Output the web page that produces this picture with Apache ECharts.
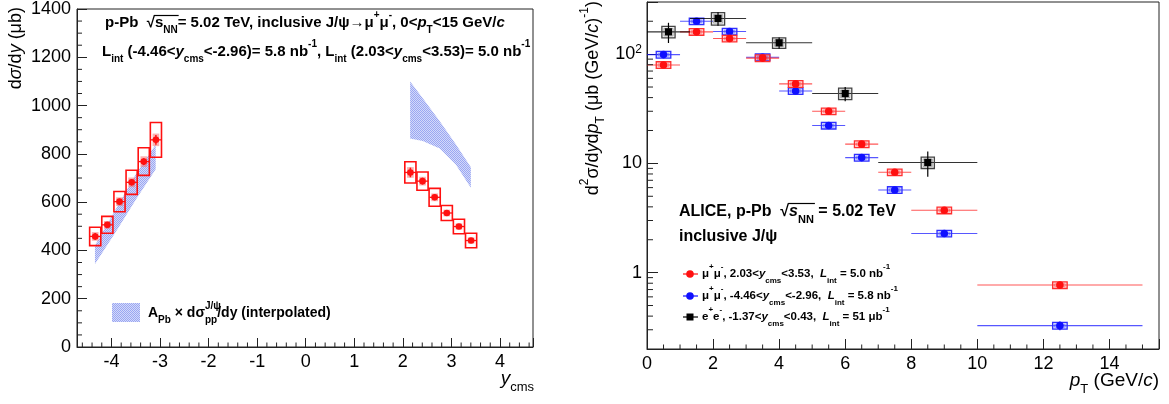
<!DOCTYPE html>
<html><head><meta charset="utf-8">
<script src="https://cdn.jsdelivr.net/npm/echarts@6/dist/echarts.min.js"></script>
<style>html,body{margin:0;padding:0;background:#fff}#c{width:1169px;height:404px}</style>
</head><body><div id="c"></div>
<script>
// ===== Left panel: dsigma/dy vs y_cms =====
const yBwdEdges = [-4.46, -4.21, -3.96, -3.71, -3.46, -3.21, -2.96];
const yBwdXsec = [458, 506, 602, 682, 768, 858];
const yBwdStat = [14, 12, 12, 12, 14, 20];
const yBwdSystUncorr = [18, 16, 18, 20, 22, 26];
const yBwdSystTot = [38, 35, 42, 50, 57, 72];
const yFwdEdges = [2.03, 2.28, 2.53, 2.78, 3.03, 3.28, 3.53];
const yFwdXsec = [723, 687, 620, 555, 499, 441];
const yFwdStat = [20, 14, 12, 10, 10, 10];
const yFwdSystUncorr = [22, 18, 16, 14, 13, 13];
const yFwdSystTot = [44, 38, 37, 31, 30, 30];
// interpolated pp reference band (A_Pb x dsigma_pp/dy)
const refBwdY = [-4.34, -3.9, -3.5, -3.09];
const refBwdLow = [344, 480, 610, 736];
const refBwdHigh = [420, 575, 715, 839];
const refFwdY = [2.15, 2.41, 2.76, 3.09, 3.40];
const refFwdLow = [864, 853, 822, 756, 660];
const refFwdHigh = [1100, 1030, 935, 840, 745];
const leftYTicks = [0, 200, 400, 600, 800, 1000, 1200, 1400];

// ===== Right panel: d2sigma/dydpT vs pT =====
const ptMuEdges = [0, 1, 2, 3, 4, 5, 6, 7, 8, 10, 15];
const ptFwdXsec = [79.6, 160, 139, 92, 53.4, 30.0, 15.0, 8.29, 3.72, 0.77];
const ptFwdStatRel = [0.03, 0.02, 0.02, 0.02, 0.03, 0.03, 0.04, 0.05, 0.05, 0.08];
const ptFwdSystRel = [0.07, 0.07, 0.07, 0.07, 0.07, 0.07, 0.07, 0.07, 0.07, 0.07];
const ptBwdXsec = [99, 200, 161, 93.7, 46, 22.2, 11.3, 5.71, 2.28, 0.327];
const ptBwdStatRel = [0.03, 0.02, 0.02, 0.02, 0.03, 0.03, 0.04, 0.05, 0.06, 0.09];
const ptBwdSystRel = [0.07, 0.07, 0.07, 0.07, 0.07, 0.07, 0.07, 0.07, 0.07, 0.07];
const ptMidEdges = [0, 1.3, 3, 5, 7, 10];
const ptMidCenters = [0.65, 2.15, 4.0, 6.0, 8.5];
const ptMidXsec = [160, 212, 127, 43.6, 10.2];
const ptMidStatRel = [0.21, 0.14, 0.12, 0.15, 0.26];
const ptMidSystRel = [0.12, 0.13, 0.11, 0.12, 0.12];

const FONT = '"Liberation Sans", Arial, Helvetica, sans-serif';

// ---------- row builders ----------
function yRows(edges, vals, stat, sU, sT) {
  return vals.map((v, i) => [(edges[i] + edges[i + 1]) / 2, v, edges[i], edges[i + 1],
    v - stat[i], v + stat[i], v - sU[i], v + sU[i], v - sT[i], v + sT[i]]);
}
function ptRows(edges, centers, vals, statRel, systRel) {
  return vals.map((v, i) => [centers ? centers[i] : (edges[i] + edges[i + 1]) / 2, v, edges[i], edges[i + 1],
    v * (1 - statRel[i]), v * (1 + statRel[i]), v * (1 - systRel[i]), v * (1 + systRel[i])]);
}

// ---------- pattern for the band ----------
const pc = document.createElement('canvas'); pc.width = 2; pc.height = 2;
const g = pc.getContext('2d');
g.fillStyle = '#d4d9fa'; g.fillRect(0, 0, 2, 2);
g.fillStyle = '#9aa7f2'; g.fillRect(0, 0, 1, 1); g.fillRect(1, 1, 1, 1);
const bandFill = { image: pc, repeat: 'repeat' };

function bandSeries(xs, lo, hi) {
  return {
    type: 'custom', xAxisIndex: 0, yAxisIndex: 0, z: 2,
    data: xs.map((x, i) => [x, lo[i], hi[i]]),
    renderItem: (params, api) => {
      if (params.dataIndex !== 0) return;
      const pts = [];
      for (let i = 0; i < xs.length; i++) pts.push(api.coord([xs[i], hi[i]]));
      for (let i = xs.length - 1; i >= 0; i--) pts.push(api.coord([xs[i], lo[i]]));
      return { type: 'polygon', shape: { points: pts }, style: { fill: bandFill } };
    }
  };
}

function leftPointSeries(rows) {
  return {
    type: 'custom', xAxisIndex: 0, yAxisIndex: 0, z: 5, data: rows,
    renderItem: (params, api) => {
      const x = api.value(0), y = api.value(1);
      const p = api.coord([x, y]);
      const xl = api.coord([api.value(2), y])[0] + 0.5, xr = api.coord([api.value(3), y])[0] - 0.5;
      const s1 = api.coord([x, api.value(4)])[1], s2 = api.coord([x, api.value(5)])[1];
      const u1 = api.coord([x, api.value(6)])[1], u2 = api.coord([x, api.value(7)])[1];
      const t1 = api.coord([x, api.value(8)])[1], t2 = api.coord([x, api.value(9)])[1];
      const ih = (xr - xl) * 0.3;
      return { type: 'group', children: [
        { type: 'rect', shape: { x: p[0] - ih, y: u2, width: 2 * ih, height: u1 - u2 }, style: { fill: 'rgba(250,110,110,0.55)' } },
        { type: 'rect', shape: { x: xl, y: t2, width: xr - xl, height: t1 - t2 }, style: { fill: 'none', stroke: '#ff1010', lineWidth: 1.6 } },
        { type: 'line', shape: { x1: xl, y1: p[1], x2: xr, y2: p[1] }, style: { stroke: '#ff1010', lineWidth: 1.3 } },
        { type: 'line', shape: { x1: p[0], y1: s2, x2: p[0], y2: s1 }, style: { stroke: '#ff1010', lineWidth: 1.5 } },
        { type: 'circle', shape: { cx: p[0], cy: p[1], r: 3.3 }, style: { fill: '#ff1010' } }
      ] };
    }
  };
}

function ptSeries(rows, color, boxStroke, boxFill, boxHalf, square) {
  return {
    type: 'custom', xAxisIndex: 1, yAxisIndex: 1, z: 5, data: rows,
    renderItem: (params, api) => {
      const x = api.value(0), y = api.value(1);
      const p = api.coord([x, y]);
      const xl = api.coord([api.value(2), y])[0], xr = api.coord([api.value(3), y])[0];
      const s1 = api.coord([x, api.value(4)])[1], s2 = api.coord([x, api.value(5)])[1];
      const b1 = api.coord([x, api.value(6)])[1], b2 = api.coord([x, api.value(7)])[1];
      const bx1 = api.coord([x - boxHalf, y])[0], bx2 = api.coord([x + boxHalf, y])[0];
      const ch = [
        { type: 'line', shape: { x1: xl, y1: p[1], x2: xr, y2: p[1] }, style: { stroke: color, lineWidth: 1.1, opacity: square ? 0.8 : 0.7 } },
        { type: 'rect', shape: { x: bx1, y: b2, width: bx2 - bx1, height: b1 - b2 }, style: { fill: boxFill, stroke: boxStroke, lineWidth: 1.3 } },
        { type: 'rect', shape: { x: bx1 + 2, y: b2 + 2, width: bx2 - bx1 - 4, height: b1 - b2 - 4 }, style: { fill: 'none', stroke: boxStroke, lineWidth: 0.6, opacity: 0.6 } },
        { type: 'line', shape: { x1: p[0], y1: s2, x2: p[0], y2: s1 }, style: { stroke: color, lineWidth: 1.2 } }
      ];
      if (square) ch.push({ type: 'rect', shape: { x: p[0] - 3.6, y: p[1] - 3.6, width: 7.2, height: 7.2 }, style: { fill: color } });
      else ch.push({ type: 'circle', shape: { cx: p[0], cy: p[1], r: 3.8 }, style: { fill: color } });
      return { type: 'group', children: ch };
    }
  };
}

// ---------- minor tick helpers ----------
function xTickSeries(xi, yMinVal, vals, len) {
  return { type: 'custom', xAxisIndex: xi, yAxisIndex: xi, z: 10, silent: true,
    data: vals.map(v => [v, yMinVal]),
    renderItem: (params, api) => {
      const p = api.coord([api.value(0), api.value(1)]);
      return { type: 'line', shape: { x1: p[0], y1: p[1], x2: p[0], y2: p[1] - len }, style: { stroke: '#222', lineWidth: 1 } };
    } };
}
function yTickSeries(xi, xMinVal, vals, len) {
  return { type: 'custom', xAxisIndex: xi, yAxisIndex: xi, z: 10, silent: true,
    data: vals.map(v => [xMinVal, v]),
    renderItem: (params, api) => {
      const p = api.coord([api.value(0), api.value(1)]);
      return { type: 'line', shape: { x1: p[0], y1: p[1], x2: p[0] + len, y2: p[1] }, style: { stroke: '#222', lineWidth: 1 } };
    } };
}
const leftXMinor = []; for (let k = -23; k <= 23; k++) if (k % 5 !== 0) leftXMinor.push(k / 5);
const leftYMinor = []; for (let v = 50; v < 1400; v += 50) if (v % 200 !== 0) leftYMinor.push(v);
const rightXMinor = []; for (let v = 0.5; v < 15.5; v += 0.5) if (v % 2 !== 0) rightXMinor.push(v);
const rightYMinor = [];
[0.1, 1, 10, 100].forEach(d => { for (let m = 2; m <= 9; m++) { const v = m * d; if (v > 0.2 && v < 300) rightYMinor.push(+v.toPrecision(3)); } });

// ---------- rich text styles ----------
function rich(size, bold) {
  const w = bold ? 'bold' : 'normal';
  const s = Math.round(size * 0.68);
  return {
    t: { fontSize: size, fontWeight: w, fontFamily: FONT, lineHeight: size + 10, verticalAlign: 'middle', fill: '#000' },
    i: { fontSize: size, fontWeight: w, fontStyle: 'italic', fontFamily: FONT, lineHeight: size + 10, verticalAlign: 'middle', fill: '#000' },
    sub: { fontSize: s, fontWeight: w, fontFamily: FONT, lineHeight: s + 1, verticalAlign: 'bottom', fill: '#000' },
    sup: { fontSize: s, fontWeight: w, fontFamily: FONT, lineHeight: s + 1, verticalAlign: 'top', fill: '#000' },
    sup0: { fontSize: s, fontWeight: w, fontFamily: FONT, lineHeight: s + 1, verticalAlign: 'top', width: 0, fill: '#000' }
  };
}
function txt(x, y, text, size, bold, align, rot) {
  return { type: 'text', x: x, y: y, rotation: rot || 0, z: 20,
    style: { text: text, rich: rich(size, bold), align: align || 'left', verticalAlign: 'middle', fontSize: size, fontFamily: FONT } };
}
// text measuring for the square-root overlines
const mctx = document.createElement('canvas').getContext('2d');
function tw(str, size, bold, italic) {
  mctx.font = (italic ? 'italic ' : '') + (bold ? 'bold ' : '') + size + 'px "Liberation Sans"';
  return mctx.measureText(str).width;
}
function overline(x0, pre, size, italicS, y) {
  const xs = x0 + tw(pre, size, true);
  const xe = xs + tw('s', size, true, italicS) + tw('NN', Math.round(size * 0.68), true);
  return { type: 'line', shape: { x1: xs - 1, y1: y, x2: xe + 1, y2: y }, style: { stroke: '#000', lineWidth: 1.2 }, z: 21 };
}

const graphics = [
  txt(105, 23, '{t|p-Pb  √}{t|s}{sub|NN}{t|= 5.02 TeV, inclusive J/ψ→μ}{sup|+}{t|μ}{sup|-}{t|, 0<}{i|p}{sub|T}{t|<15 GeV/}{i|c}', 15, true),
  overline(105, 'p-Pb  √', 15, false, 15.5),
  txt(102, 52, '{t|L}{sub|int}{t| (-4.46<}{i|y}{sub|cms}{t|<-2.96)= 5.8 nb}{sup|-1}{t|, L}{sub|int}{t| (2.03<}{i|y}{sub|cms}{t|<3.53)= 5.0 nb}{sup|-1}', 15, true),
  { type: 'rect', shape: { x: 112, y: 303, width: 28, height: 19 }, style: { fill: bandFill }, z: 20 },
  txt(148, 313, '{t|A}{sub|Pb}{t| × dσ}{sup0|J/ψ}{sub|pp}{t|/dy (interpolated)}', 14, true),
  txt(16, 7, '{t|d}{i|σ}{t|/d}{i|y}{t| (μb)}', 18, false, 'right', Math.PI / 2),
  txt(534, 379, '{i|y}{sub|cms}', 19, false, 'right'),
  txt(679, 212, '{t|ALICE, p-Pb  √}{i|s}{sub|NN}{t| = 5.02 TeV}', 16, true),
  overline(679, 'ALICE, p-Pb  √', 16, true, 203.5),
  txt(679, 237, '{t|inclusive J/ψ}', 16, true),
  txt(702, 274, '{t|μ}{sup|+}{t|μ}{sup|-}{t|, 2.03<}{i|y}{sub|cms}{t|<3.53,  }{i|L}{sub|int}{t| = 5.0 nb}{sup|-1}', 11.5, true),
  txt(702, 296, '{t|μ}{sup|+}{t|μ}{sup|-}{t|, -4.46<}{i|y}{sub|cms}{t|<-2.96,  }{i|L}{sub|int}{t| = 5.8 nb}{sup|-1}', 11.5, true),
  txt(702, 317, '{t|e}{sup|+}{t|e}{sup|-}{t|, -1.37<}{i|y}{sub|cms}{t|<0.43,  }{i|L}{sub|int}{t| = 51 μb}{sup|-1}', 11.5, true),
  { type: 'line', shape: { x1: 683, y1: 274, x2: 698, y2: 274 }, style: { stroke: '#ff1010', lineWidth: 1.2 }, z: 20 },
  { type: 'circle', shape: { cx: 690, cy: 274, r: 3.8 }, style: { fill: '#ff1010' }, z: 21 },
  { type: 'line', shape: { x1: 683, y1: 296, x2: 698, y2: 296 }, style: { stroke: '#1010ff', lineWidth: 1.2 }, z: 20 },
  { type: 'circle', shape: { cx: 690, cy: 296, r: 3.8 }, style: { fill: '#1010ff' }, z: 21 },
  { type: 'line', shape: { x1: 683, y1: 317, x2: 698, y2: 317 }, style: { stroke: '#000', lineWidth: 1.2 }, z: 20 },
  { type: 'rect', shape: { x: 686.5, y: 313.5, width: 7, height: 7 }, style: { fill: '#000' }, z: 21 },
  txt(593, 1, '{t|d}{sup|2}{t|σ/d}{i|y}{t|d}{i|p}{sub|T}{t| (μb (GeV/}{i|c}{t|)}{sup|-1}{t|)}', 18, false, 'right', Math.PI / 2),
  txt(1159, 381, '{i|p}{sub|T}{t| (GeV/}{i|c}{t|)}', 19, false, 'right')
];

const axisLab = { color: '#000', fontSize: 18, fontFamily: FONT };
const axLine = { onZero: false, lineStyle: { color: '#222' } };
const option = {
  animation: false,
  backgroundColor: '#fff',
  grid: [
    { left: 77, top: 7, width: 456, height: 340, show: true, borderColor: '#222', borderWidth: 1 },
    { left: 647, top: 2, width: 512, height: 347, show: true, borderColor: '#222', borderWidth: 1 }
  ],
  xAxis: [
    { type: 'value', gridIndex: 0, min: -4.71, max: 4.68, splitNumber: 9,
      axisLine: axLine, axisTick: { inside: true, length: 9, lineStyle: { color: '#222' } },
      splitLine: { show: false },
      axisLabel: Object.assign({ margin: 6, formatter: v => Number.isInteger(v) ? String(v) : '' }, axisLab) },
    { type: 'value', gridIndex: 1, min: 0, max: 15.5, interval: 2,
      axisLine: axLine, axisTick: { inside: true, length: 10, lineStyle: { color: '#222' } },
      splitLine: { show: false },
      axisLabel: Object.assign({ margin: 6, formatter: v => (Number.isInteger(v) && v <= 14) ? String(v) : '' }, axisLab) }
  ],
  yAxis: [
    { type: 'value', gridIndex: 0, min: leftYTicks[0], max: leftYTicks[leftYTicks.length - 1], interval: 200,
      axisLine: axLine, axisTick: { inside: true, length: 10, lineStyle: { color: '#222' } },
      splitLine: { show: false },
      axisLabel: Object.assign({ margin: 6, formatter: v => String(v) }, axisLab) },
    { type: 'log', logBase: 10, gridIndex: 1, min: 0.2, max: 300,
      axisLine: axLine, axisTick: { inside: true, length: 11, lineStyle: { color: '#222' } },
      splitLine: { show: false },
      axisLabel: Object.assign({ margin: 5,
        formatter: v => { const l = Math.log10(v); if (Math.abs(l - Math.round(l)) > 1e-6) return '';
          const e = Math.round(l); if (e === 2) return '{n|10}{s|2}'; return String(Math.pow(10, e)); },
        rich: { n: { fontSize: 18, fontFamily: FONT, color: '#000' }, s: { fontSize: 12, fontFamily: FONT, color: '#000', verticalAlign: 'top', padding: [0, 0, 8, 0] } } }, axisLab) }
  ],
  graphic: graphics,
  series: [
    bandSeries(refBwdY, refBwdLow, refBwdHigh),
    bandSeries(refFwdY, refFwdLow, refFwdHigh),
    leftPointSeries(yRows(yBwdEdges, yBwdXsec, yBwdStat, yBwdSystUncorr, yBwdSystTot)),
    leftPointSeries(yRows(yFwdEdges, yFwdXsec, yFwdStat, yFwdSystUncorr, yFwdSystTot)),
    ptSeries(ptRows(ptMuEdges, null, ptBwdXsec, ptBwdStatRel, ptBwdSystRel), '#1010ff', '#3030ff', 'rgba(120,140,255,0.35)', 0.22, false),
    ptSeries(ptRows(ptMuEdges, null, ptFwdXsec, ptFwdStatRel, ptFwdSystRel), '#ff1010', '#ff3030', 'rgba(255,130,130,0.35)', 0.22, false),
    ptSeries(ptRows(ptMidEdges, ptMidCenters, ptMidXsec, ptMidStatRel, ptMidSystRel), '#000', '#444', 'rgba(0,0,0,0.06)', 0.2, true),
    xTickSeries(0, 0, leftXMinor, 4.5),
    yTickSeries(0, -4.71, leftYMinor, 5),
    xTickSeries(1, 0.2, rightXMinor, 4.5),
    yTickSeries(1, 0, rightYMinor, 6)
  ]
};
const chart = echarts.init(document.getElementById('c'), null, { renderer: 'canvas' });
chart.setOption(option);
</script></body></html>
